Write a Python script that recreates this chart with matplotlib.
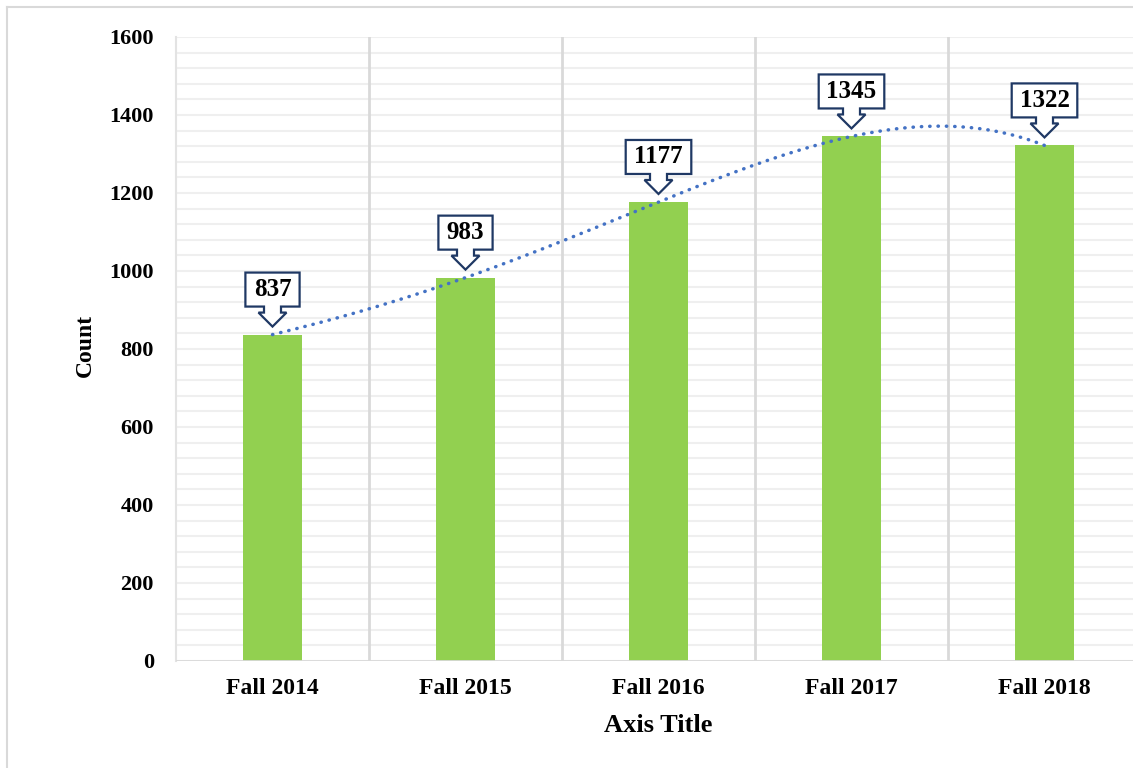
import matplotlib
matplotlib.use("Agg")
import matplotlib.pyplot as plt
import numpy as np
from matplotlib.lines import Line2D
from matplotlib.patches import Polygon
from matplotlib.ticker import MultipleLocator

terms = ['Fall 2014', 'Fall 2015', 'Fall 2016', 'Fall 2017', 'Fall 2018']
counts = [837, 983, 1177, 1345, 1322]
y_ticks = [0, 200, 400, 600, 800, 1000, 1200, 1400, 1600]

plt.rcParams['font.family'] = ['Liberation Serif', 'DejaVu Serif']
plt.rcParams['font.weight'] = 'bold'

W, H = 1133, 768
fig = plt.figure(figsize=(W / 100, H / 100), dpi=100)
ax = fig.add_axes([176 / W, 107 / H, 965 / W, 624 / H])
ax.set_axisbelow(True)

x = np.arange(len(terms))
ax.bar(x, counts, width=0.31, color='#92D050', zorder=3)

# polynomial trendline (order 4) over the data range
coef = np.polyfit(x, counts, 4)
xs = np.linspace(x[0], x[-1], 400)
ax.plot(xs, np.polyval(coef, xs), color='#4472C4', lw=2.5,
        linestyle=(0, (0.1, 2.3)), dash_capstyle='round', zorder=5)

ax.set_xlim(-0.5, len(terms) - 0.5)
ax.set_ylim(0, 1600)
ax.set_yticks(y_ticks)
ax.yaxis.set_minor_locator(MultipleLocator(40))
ax.set_xticks(x)
ax.set_xticklabels(terms, fontsize=17, fontweight='bold')
ax.tick_params(axis='y', labelsize=16, length=0, pad=16)
ax.tick_params(axis='x', length=0, pad=12)
ax.tick_params(which='minor', length=0)

ax.grid(axis='y', which='both', color='#efefef', lw=1.5)
for b in np.arange(0.5, len(terms) - 0.5):
    ax.axvline(b, color='#d9d9d9', lw=2, zorder=2)
ax.axhline(0, color='#d9d9d9', lw=2, zorder=4)

for s in ['top', 'right', 'bottom']:
    ax.spines[s].set_visible(False)
ax.spines['left'].set_color('#e3e3e3')
ax.spines['left'].set_linewidth(1.5)

# down-arrow callouts above each bar, sized in pixels
fig.canvas.draw()
for xi, v in zip(x, counts):
    cx, cy = ax.transData.transform((xi, v))
    label = str(v)
    hw = 10 + 5.7 * len(label)
    pts = [
        (cx, cy + 8),
        (cx + 14, cy + 22),
        (cx + 8.5, cy + 22),
        (cx + 8.5, cy + 28),
        (cx + hw, cy + 28),
        (cx + hw, cy + 62),
        (cx - hw, cy + 62),
        (cx - hw, cy + 28),
        (cx - 8.5, cy + 28),
        (cx - 8.5, cy + 22),
        (cx - 14, cy + 22),
    ]
    fig.add_artist(Polygon(pts, closed=True, facecolor='white', edgecolor='#1F3864',
                           lw=1.6, transform=None, zorder=6, joinstyle='miter'))
    fig.text(cx / W, (cy + 45) / H, label, ha='center', va='center',
             fontsize=18, fontweight='bold', zorder=7)

fig.text(85 / W, (H - 345) / H, 'Count', rotation=90, ha='center', va='center',
         fontsize=17, fontweight='bold')
fig.text(658 / W, (H - 725) / H, 'Axis Title', ha='center', va='center',
         fontsize=19, fontweight='bold')

# chart area border (left and top edges)
fig.add_artist(Line2D([7 / W, 7 / W], [0, 1 - 7 / H], color='#d9d9d9', lw=1.5))
fig.add_artist(Line2D([7 / W, 1], [1 - 7 / H, 1 - 7 / H], color='#d9d9d9', lw=1.5))

fig.savefig('out.png', dpi=100)
